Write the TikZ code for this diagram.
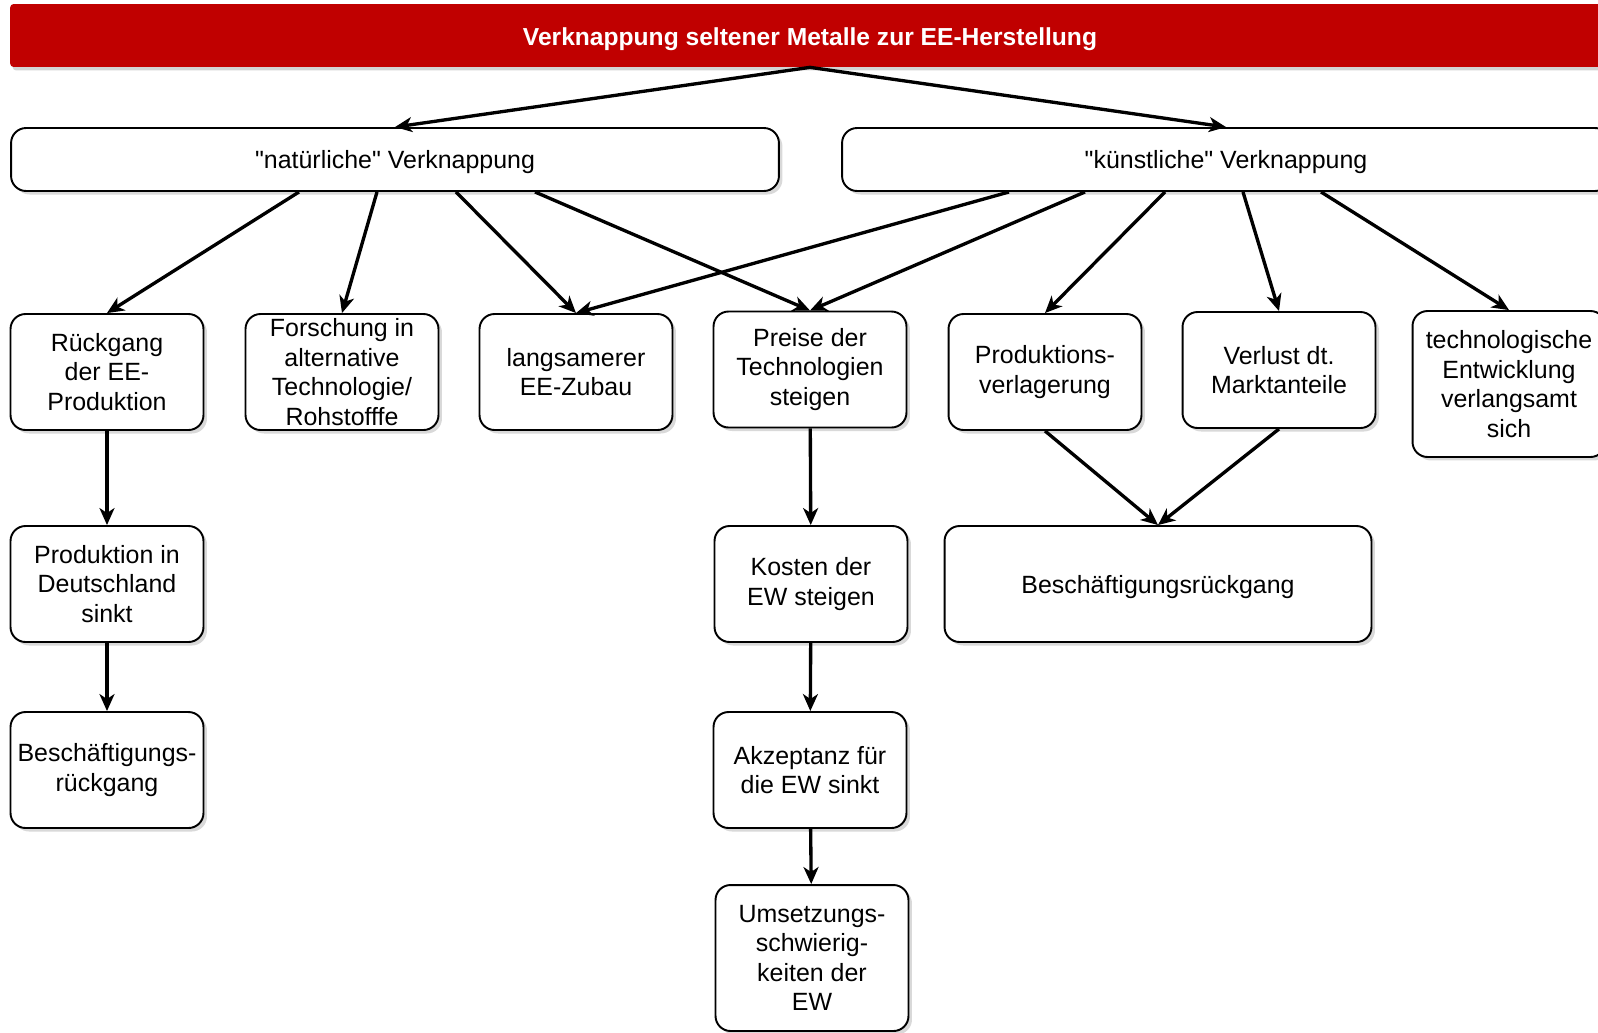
\documentclass[tikz,border=0pt]{standalone}
\usepackage{fontspec}
\setmainfont{Liberation Sans}
\usetikzlibrary{arrows.meta,calc,shadows}
\definecolor{headred}{HTML}{C00000}

\begin{document}
\begin{tikzpicture}[
    x=0.02cm,
    y=-0.02cm,
    box/.style={draw, line width=1.1pt, rounded corners=0.3cm, fill=white,
      align=center, inner sep=0pt, minimum width=3.86cm, minimum height=2.32cm,
      font=\fontsize{14.2pt}{16.8pt}\selectfont,
      drop shadow={shadow xshift=0.07cm, shadow yshift=-0.07cm, opacity=0.3}},
    tallbox/.style={box, minimum height=2.92cm},
    oneline/.style={text height=13.6pt, text depth=3pt},
    widebox/.style={box, oneline, minimum width=15.36cm, minimum height=1.26cm},
    head/.style={fill=headred, text=white, rounded corners=2pt,
      minimum width=32cm, minimum height=1.26cm, inner sep=0pt,
      text height=14.6pt, text depth=3pt,
      font=\fontsize{14pt}{16pt}\selectfont\bfseries,
      drop shadow={shadow xshift=0.05cm, shadow yshift=-0.07cm, opacity=0.35}},
    arr/.style={-{Stealth[length=0.34cm, width=0.3cm, inset=0.1cm]}, line width=1.9pt}
  ]
    \useasboundingbox (0,0) rectangle (1598,1032);

    % Kopf
    \node[head] (title) at (810,35.5) {Verknappung seltener Metalle zur EE-Herstellung};
    \node[widebox] (nat) at (395,159.5) {\textquotedbl natürliche\textquotedbl\ Verknappung};
    \node[widebox] (kuen) at (1226,159.5) {\textquotedbl künstliche\textquotedbl\ Verknappung};

    % Ebene 1
    \node[box] (rueck) at (107,372) {Rückgang\\der EE-\\Produktion};
    \node[box] (forsch) at (342,372) {Forschung in\\alternative\\Technologie/\\Rohstofffe};
    \node[box] (langs) at (576,372) {langsamerer\\EE-Zubau};
    \node[box] (preise) at (810,369.5) {Preise der\\Technologien\\steigen};
    \node[box] (prodv) at (1045,372) {Produktions-\\verlagerung};
    \node[box] (verlust) at (1279,370) {Verlust dt.\\Marktanteile};
    \node[tallbox] (techn) at (1509,384) {technologische\\Entwicklung\\verlangsamt\\sich};

    % Ebene 2
    \node[box] (prodd) at (107,584) {Produktion in\\Deutschland\\sinkt};
    \node[box] (kosten) at (811,584) {Kosten der\\EW steigen};
    \node[box, oneline, minimum width=8.54cm] (besch) at (1158,584) {Beschäftigungsrückgang};

    % Ebene 3 und 4
    \node[box] (beschr) at (107,770) {Beschäftigungs-\\rückgang};
    \node[box] (akzept) at (810,770) {Akzeptanz für\\die EW sinkt};
    \node[tallbox] (umsetz) at (812,958) {Umsetzungs-\\schwierig-\\keiten der\\EW};

    % Pfeile
    \draw[arr] (title.south) -- (nat.north);
    \draw[arr] (title.south) -- (kuen.north);

    \draw[arr] ($(nat.south)+(-96,0)$) -- (rueck.north);
    \draw[arr] ($(nat.south)+(-18,0)$) -- (forsch.north);
    \draw[arr] ($(nat.south)+(61,0)$) -- (langs.north);
    \draw[arr] ($(nat.south)+(140,0)$) -- (preise.north);

    \draw[arr] ($(kuen.south)+(-217,0)$) -- (langs.north);
    \draw[arr] ($(kuen.south)+(-141,0)$) -- (preise.north);
    \draw[arr] ($(kuen.south)+(-61,0)$) -- (prodv.north);
    \draw[arr] ($(kuen.south)+(17,0)$) -- (verlust.north);
    \draw[arr] ($(kuen.south)+(95,0)$) -- (techn.north);

    \draw[arr] (rueck) -- (prodd);
    \draw[arr] (prodd) -- (beschr);
    \draw[arr] (preise) -- (kosten);
    \draw[arr] (kosten) -- (akzept);
    \draw[arr] (akzept) -- (umsetz);
    \draw[arr] (prodv.south) -- (besch.north);
    \draw[arr] (verlust.south) -- (besch.north);
\end{tikzpicture}
\end{document}
